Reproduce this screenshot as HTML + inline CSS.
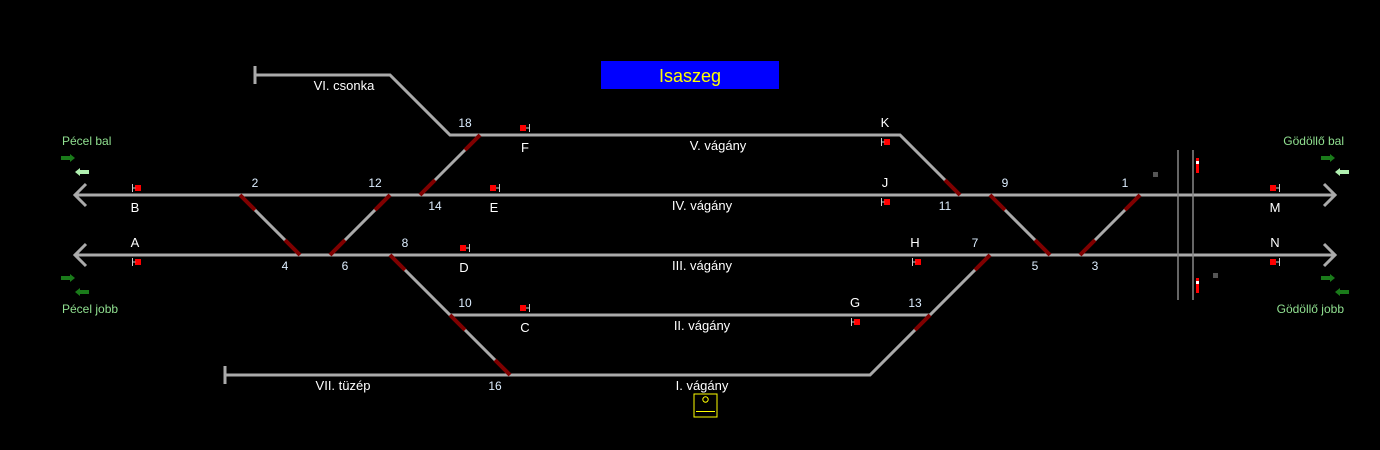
<!DOCTYPE html>
<html><head><meta charset="utf-8"><style>
html,body{margin:0;padding:0;background:#000;}
svg{display:block;}
text{font-family:"Liberation Sans",sans-serif;}
</style></head><body>
<svg width="1380" height="450" viewBox="0 0 1380 450" xmlns="http://www.w3.org/2000/svg">
<rect width="1380" height="450" fill="#000"/>
<g stroke="#aaaaaa" stroke-width="3" fill="none">
<polyline points="255,75 390,75 450,135 900,135 960,195"/>
<line x1="255" y1="66" x2="255" y2="84"/>
<line x1="75" y1="195" x2="1335" y2="195"/>
<line x1="75" y1="255" x2="1335" y2="255"/>
<line x1="450" y1="315" x2="930" y2="315"/>
<polyline points="225,375 870,375 990,255"/>
<line x1="225" y1="366" x2="225" y2="384"/>
<line x1="240" y1="195" x2="300" y2="255"/>
<line x1="330" y1="255" x2="390" y2="195"/>
<line x1="420" y1="195" x2="480" y2="135"/>
<line x1="390" y1="255" x2="510" y2="375"/>
<line x1="990" y1="195" x2="1050" y2="255"/>
<line x1="1080" y1="255" x2="1140" y2="195"/>
<polyline points="86,184 75,195 86,206"/>
<polyline points="86,244 75,255 86,266"/>
<polyline points="1324,184 1335,195 1324,206"/>
<polyline points="1324,244 1335,255 1324,266"/>
</g>
<g stroke="#800000" stroke-width="4">
<line x1="240" y1="195" x2="255" y2="210"/><line x1="285" y1="240" x2="300" y2="255"/>
<line x1="330" y1="255" x2="345" y2="240"/><line x1="375" y1="210" x2="390" y2="195"/>
<line x1="420" y1="195" x2="435" y2="180"/><line x1="465" y1="150" x2="480" y2="135"/>
<line x1="390" y1="255" x2="405" y2="270"/><line x1="450" y1="315" x2="465" y2="330"/><line x1="495" y1="360" x2="510" y2="375"/>
<line x1="945" y1="180" x2="960" y2="195"/>
<line x1="990" y1="195" x2="1005" y2="210"/><line x1="1035" y1="240" x2="1050" y2="255"/>
<line x1="1080" y1="255" x2="1095" y2="240"/><line x1="1125" y1="210" x2="1140" y2="195"/>
<line x1="975" y1="270" x2="990" y2="255"/><line x1="915" y1="330" x2="930" y2="315"/>
</g>
<g stroke="#888" stroke-width="1.5">
<line x1="1178" y1="150" x2="1178" y2="300"/>
<line x1="1193" y1="150" x2="1193" y2="300"/>
</g>
<rect x="1196" y="158" width="3" height="15" fill="#f00"/><rect x="1196" y="161" width="3" height="3" fill="#fff"/>
<rect x="1196" y="278" width="3" height="15" fill="#f00"/><rect x="1196" y="281" width="3" height="3" fill="#fff"/>
<rect x="1153" y="172" width="5" height="5" fill="#555"/>
<rect x="1213" y="273" width="5" height="5" fill="#555"/>
<g fill="#f00">
<rect x="135" y="185" width="6" height="6"/><rect x="135" y="259" width="6" height="6"/>
<rect x="884" y="139" width="6" height="6"/><rect x="884" y="199" width="6" height="6"/>
<rect x="915" y="259" width="6" height="6"/><rect x="854" y="319" width="6" height="6"/>
<rect x="490" y="185" width="6" height="6"/><rect x="520" y="125" width="6" height="6"/>
<rect x="460" y="245" width="6" height="6"/><rect x="520" y="305" width="6" height="6"/>
<rect x="1270" y="185" width="6" height="6"/><rect x="1270" y="259" width="6" height="6"/>
</g>
<g stroke="#ccc" stroke-width="1" fill="none">
<path d="M132.5,184v8M132.5,188h3M132.5,258v8M132.5,262h3"/>
<path d="M881.5,138v8M881.5,142h3M881.5,198v8M881.5,202h3M912.5,258v8M912.5,262h3M851.5,318v8M851.5,322h3"/>
<path d="M499.5,184v8M496,188h3M529.5,124v8M526,128h3M469.5,244v8M466,248h3M529.5,304v8M526,308h3"/>
<path d="M1279.5,184v8M1276,188h3M1279.5,258v8M1276,262h3"/>
</g>
<g>
<path d="M61,156h9v-2l5,4l-5,4v-2h-9z" fill="#1a7a1a"/>
<path d="M89,170h-9v-2l-5,4l5,4v-2h9z" fill="#b0f0b0"/>
<path d="M61,276h9v-2l5,4l-5,4v-2h-9z" fill="#1a7a1a"/>
<path d="M89,290h-9v-2l-5,4l5,4v-2h9z" fill="#1a7a1a"/>
<path d="M1321,156h9v-2l5,4l-5,4v-2h-9z" fill="#1a7a1a"/>
<path d="M1349,170h-9v-2l-5,4l5,4v-2h9z" fill="#b0f0b0"/>
<path d="M1321,276h9v-2l5,4l-5,4v-2h-9z" fill="#1a7a1a"/>
<path d="M1349,290h-9v-2l-5,4l5,4v-2h9z" fill="#1a7a1a"/>
</g>
<g font-size="12" fill="#90e090">
<text x="62" y="145">Pécel bal</text>
<text x="62" y="313">Pécel jobb</text>
<text x="1344" y="145" text-anchor="end">Gödöllő bal</text>
<text x="1344" y="313" text-anchor="end">Gödöllő jobb</text>
</g>
<rect x="601" y="61" width="178" height="28" fill="#0000ff"/>
<text x="690" y="82" font-size="18" fill="#ffff00" text-anchor="middle">Isaszeg</text>
<g font-size="13" fill="#fff" text-anchor="middle">
<text x="344" y="90">VI. csonka</text>
<text x="718" y="150">V. vágány</text>
<text x="702" y="210">IV. vágány</text>
<text x="702" y="270">III. vágány</text>
<text x="702" y="330">II. vágány</text>
<text x="702" y="390">I. vágány</text>
<text x="343" y="390">VII. tüzép</text>
<text x="135" y="212">B</text><text x="135" y="247">A</text>
<text x="525" y="152">F</text><text x="494" y="212">E</text><text x="464" y="272">D</text><text x="525" y="332">C</text>
<text x="885" y="127">K</text><text x="885" y="187">J</text><text x="915" y="247">H</text><text x="855" y="307">G</text>
<text x="1275" y="212">M</text><text x="1275" y="247">N</text>
</g>
<g font-size="12" fill="#ddeeff" text-anchor="middle">
<text x="255" y="187">2</text><text x="375" y="187">12</text><text x="435" y="210">14</text>
<text x="465" y="127">18</text><text x="285" y="270">4</text><text x="345" y="270">6</text>
<text x="405" y="247">8</text><text x="465" y="307">10</text><text x="495" y="390">16</text>
<text x="945" y="210">11</text><text x="1005" y="187">9</text><text x="1125" y="187">1</text>
<text x="975" y="247">7</text><text x="1035" y="270">5</text><text x="1095" y="270">3</text>
<text x="915" y="307">13</text>
</g>
<rect x="694" y="394" width="23" height="23" fill="none" stroke="#ffff00" stroke-width="1"/>
<circle cx="705.5" cy="399.5" r="2.7" fill="none" stroke="#ffff00" stroke-width="1"/>
<line x1="696" y1="411.5" x2="715" y2="411.5" stroke="#ffff00" stroke-width="1"/>
</svg>
</body></html>
